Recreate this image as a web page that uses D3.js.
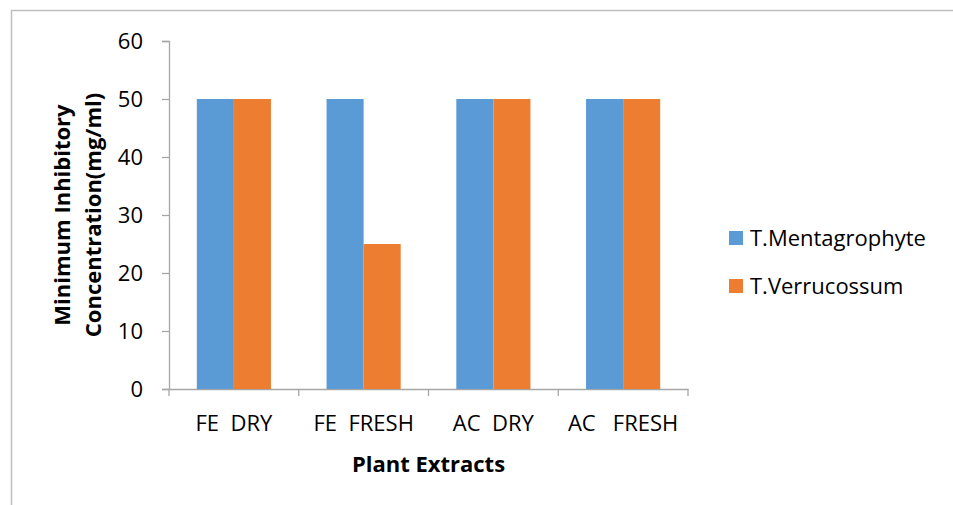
<!DOCTYPE html>
<html>
<head>
<meta charset="utf-8">
<script src="https://cdn.jsdelivr.net/npm/d3@7"></script>
<style>
  body { margin: 0; background: #fff; }
  svg text { font-family: "Open Sans", "Noto Sans", sans-serif; fill: #000; white-space: pre; }
</style>
</head>
<body>
<div id="chart"></div>
<script>
const categories = ["FE  DRY", "FE  FRESH", "AC  DRY", "AC   FRESH"];
const seriesNames = ["T.Mentagrophyte", "T.Verrucossum"];
const mentagrophyte = [50, 50, 50, 50];
const verrucossum = [50, 25, 50, 50];
const yTicks = [0, 10, 20, 30, 40, 50, 60];
const colors = ["#5B9BD5", "#ED7D31"];

const W = 953, H = 505;
const margin = {top: 41, right: 265, bottom: 116, left: 169};
const width = W - margin.left - margin.right;
const height = H - margin.top - margin.bottom;
const fs = "22px";

const svg = d3.select("#chart")
    .append("svg")
    .attr("width", W)
    .attr("height", H);

// outer chart border
svg.append("rect")
    .attr("x", 11.5).attr("y", 10.5)
    .attr("width", W).attr("height", H)
    .attr("fill", "none")
    .attr("stroke", "#BFBFBF")
    .attr("stroke-width", 1.5);

const g = svg.append("g")
    .attr("transform", `translate(${margin.left}, ${margin.top})`);

const x = d3.scaleBand()
    .domain(categories)
    .range([0, width]);

const x1 = d3.scaleBand()
    .domain(seriesNames)
    .range([0, x.bandwidth()])
    .paddingOuter(0.75)
    .paddingInner(0);

const y = d3.scaleLinear()
    .domain([0, 60])
    .range([height, 0]);

// y axis
const yAxis = g.append("g")
    .call(d3.axisLeft(y).tickValues(yTicks).tickSize(7).tickPadding(19));
yAxis.selectAll("path, line").attr("stroke", "#A6A6A6").attr("stroke-width", 1.3);
yAxis.selectAll("text").style("font-size", fs);

// x axis
const xAxis = g.append("g")
    .attr("transform", `translate(0, ${height})`)
    .call(d3.axisBottom(x).tickSize(0).tickPadding(26));
xAxis.selectAll("path").attr("stroke", "#A6A6A6").attr("stroke-width", 1.3);
xAxis.selectAll("text").style("font-size", fs);
// tick marks between categories
xAxis.selectAll(".sep")
    .data(d3.range(categories.length + 1))
    .enter()
    .append("line")
    .attr("x1", i => i * x.step())
    .attr("x2", i => i * x.step())
    .attr("y1", 0).attr("y2", 7)
    .attr("stroke", "#A6A6A6")
    .attr("stroke-width", 1.3);

// bars
const rows = categories.map((c, i) => ({cat: c, vals: [mentagrophyte[i], verrucossum[i]]}));
const grp = g.selectAll(".grp")
    .data(rows)
    .enter()
    .append("g")
    .attr("transform", d => `translate(${x(d.cat)}, 0)`);
grp.selectAll("rect")
    .data(d => d.vals.map((v, j) => ({name: seriesNames[j], v: v, j: j})))
    .enter()
    .append("rect")
    .attr("x", d => x1(d.name))
    .attr("y", d => y(d.v))
    .attr("width", x1.bandwidth())
    .attr("height", d => height - y(d.v))
    .attr("fill", d => colors[d.j]);

// axis titles
svg.append("text")
    .attr("x", margin.left + width / 2)
    .attr("y", 472)
    .attr("text-anchor", "middle")
    .style("font-size", fs)
    .style("font-weight", "bold")
    .text("Plant Extracts");

const yt = svg.append("text")
    .attr("transform", `translate(0, ${margin.top + height / 2}) rotate(-90)`)
    .attr("text-anchor", "middle")
    .style("font-size", fs)
    .style("font-weight", "bold");
yt.append("tspan").attr("x", 0).attr("y", 70).text("Minimum Inhibitory");
yt.append("tspan").attr("x", 0).attr("y", 101).text("Concentration(mg/ml)");

// legend
const legend = svg.append("g")
    .attr("transform", "translate(729, 231)");
const items = legend.selectAll("g")
    .data(seriesNames)
    .enter()
    .append("g")
    .attr("transform", (d, i) => `translate(0, ${i * 48})`);
items.append("rect")
    .attr("width", 14).attr("height", 14)
    .attr("fill", (d, i) => colors[i]);
items.append("text")
    .attr("x", 21).attr("y", 7)
    .attr("dy", "0.35em")
    .style("font-size", fs)
    .text(d => d);
</script>
</body>
</html>
